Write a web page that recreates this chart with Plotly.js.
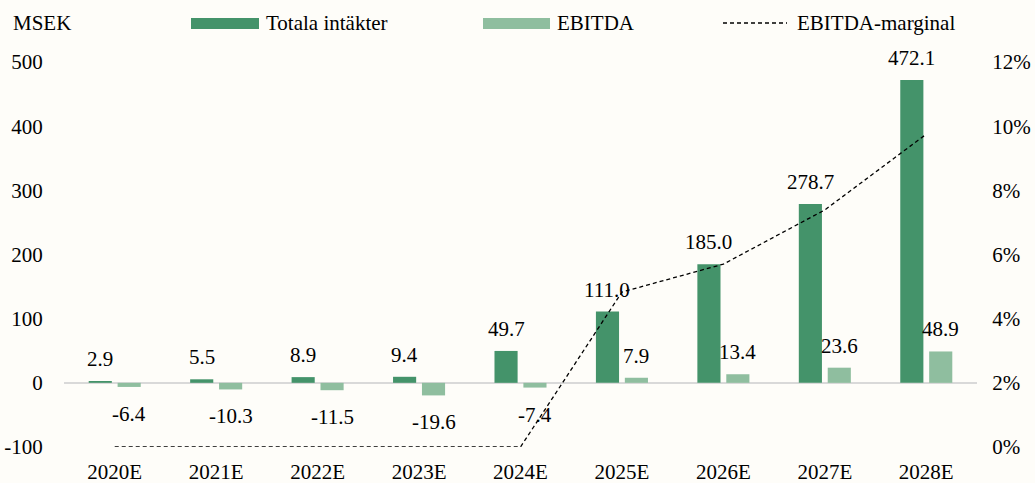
<!DOCTYPE html>
<html>
<head>
<meta charset="utf-8">
<script src="https://cdn.plot.ly/plotly-3.0.1.min.js"></script>
<style>html,body{margin:0;padding:0;background:#fefdf9;}#chart{width:1035px;height:483px;}</style>
</head>
<body>
<div id="chart"></div>
<script>
// ---- data ----
const categories = ['2020E','2021E','2022E','2023E','2024E','2025E','2026E','2027E','2028E'];
const revenue = [2.9, 5.5, 8.9, 9.4, 49.7, 111.0, 185.0, 278.7, 472.1];
const ebitda = [-6.4, -10.3, -11.5, -19.6, -7.4, 7.9, 13.4, 23.6, 48.9];
const ebitdaMargin = [0, 0, 0, 0, 0, 0.0483, 0.0570, 0.0739, 0.0975];
const leftTicks = [-100, 0, 100, 200, 300, 400, 500];
const leftTickText = ['-100', '0', '100', '200', '300', '400', '500'];
const rightTicks = [0, 0.02, 0.04, 0.06, 0.08, 0.10, 0.12];
const rightTickText = ['0%', '2%', '4%', '6%', '8%', '10%', '12%'];
const seriesNames = ['Totala intäkter', 'EBITDA', 'EBITDA-marginal'];

const W = 1035, H = 483;
const M = {l: 64, r: 58, t: 62, b: 36};
const pw = W - M.l - M.r, ph = H - M.t - M.b;
const px = x => (x - M.l) / pw;
const py = y => (H - M.b - y) / ph;

const dark = '#44936a', light = '#8fbe9f';
const font = {family: '"Liberation Serif", "Times New Roman", serif', size: 21, color: '#000'};
const fmt = v => (v < 0 ? '-' : '') + Math.abs(v).toFixed(1);

const traces = [
  {type: 'bar', x: categories, y: revenue, name: seriesNames[0], marker: {color: dark}, yaxis: 'y', hoverinfo: 'y'},
  {type: 'bar', x: categories, y: ebitda, name: seriesNames[1], marker: {color: light}, yaxis: 'y', hoverinfo: 'y'},
  {type: 'scatter', mode: 'lines', x: categories, y: ebitdaMargin, name: seriesNames[2], yaxis: 'y2',
   line: {color: '#000', width: 1.3, dash: '4px,3px'}, hoverinfo: 'y'}
];

const annotations = [];
categories.forEach((c, i) => {
  annotations.push({x: c, y: revenue[i], xref: 'x', yref: 'y', xshift: -14.5, yshift: revenue[i] >= 0 ? 22 : -26,
    text: fmt(revenue[i]), showarrow: false, font: font, yanchor: 'middle'});
  annotations.push({x: c, y: ebitda[i], xref: 'x', yref: 'y', xshift: 14.5, yshift: ebitda[i] >= 0 ? 22 : -27,
    text: fmt(ebitda[i]), showarrow: false, font: font, yanchor: 'middle'});
});
// header texts
annotations.push({xref: 'paper', yref: 'paper', x: px(11), y: py(23), xanchor: 'left', yanchor: 'middle', text: 'MSEK', showarrow: false, font: font});
annotations.push({xref: 'paper', yref: 'paper', x: px(264), y: py(23), xanchor: 'left', yanchor: 'middle', text: seriesNames[0], showarrow: false, font: font});
annotations.push({xref: 'paper', yref: 'paper', x: px(555), y: py(23), xanchor: 'left', yanchor: 'middle', text: seriesNames[1], showarrow: false, font: font});
annotations.push({xref: 'paper', yref: 'paper', x: px(795), y: py(23), xanchor: 'left', yanchor: 'middle', text: seriesNames[2], showarrow: false, font: font});

const shapes = [
  {type: 'rect', xref: 'paper', yref: 'paper', x0: px(191), x1: px(259), y0: py(18), y1: py(29), fillcolor: dark, line: {width: 0}},
  {type: 'rect', xref: 'paper', yref: 'paper', x0: px(483), x1: px(550), y0: py(18), y1: py(29), fillcolor: light, line: {width: 0}},
  {type: 'line', xref: 'paper', yref: 'paper', x0: px(723), x1: px(787), y0: py(23), y1: py(23), line: {color: '#000', width: 1.3, dash: '4px,3px'}}
];

const layout = {
  width: W, height: H,
  margin: M,
  paper_bgcolor: '#fefdf9', plot_bgcolor: '#fefdf9',
  font: font,
  showlegend: false,
  barmode: 'group', bargap: 0.43, bargroupgap: 0.2,
  xaxis: {type: 'category', showgrid: false, zeroline: false, showline: false,
    ticks: 'outside', ticklen: 6, tickcolor: 'rgba(0,0,0,0)', tickfont: font},
  yaxis: {range: [-100, 500], tickvals: leftTicks, ticktext: leftTickText, showgrid: false, zeroline: true, zerolinecolor: '#d9d9d9', zerolinewidth: 1.5,
    showline: false, ticks: 'outside', ticklen: 16, tickcolor: 'rgba(0,0,0,0)', tickfont: font},
  yaxis2: {range: [0, 0.12], tickvals: rightTicks, ticktext: rightTickText, overlaying: 'y', side: 'right', showgrid: false,
    zeroline: false, showline: false, ticks: 'outside', ticklen: 10, tickcolor: 'rgba(0,0,0,0)', tickfont: font},
  annotations: annotations,
  shapes: shapes
};

Plotly.newPlot('chart', traces, layout, {displayModeBar: false, staticPlot: true});
</script>
</body>
</html>
